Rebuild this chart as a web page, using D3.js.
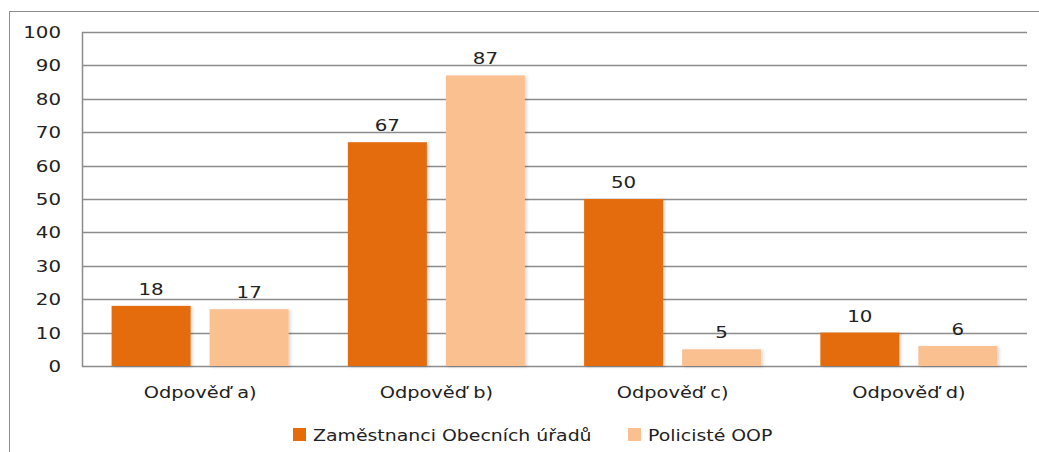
<!DOCTYPE html>
<html><head><meta charset="utf-8">
<script src="https://cdn.jsdelivr.net/npm/d3@7"></script>
<style>
html,body{margin:0;padding:0;background:#fff;}
svg text{font-family:"DejaVu Sans",Verdana,sans-serif;fill:#222;}
</style></head><body>
<svg id="c" width="1039" height="452"></svg>
<script>
const categories = ["Odpověď a)", "Odpověď b)", "Odpověď c)", "Odpověď d)"];
const seriesNames = ["Zaměstnanci Obecních úřadů", "Policisté OOP"];
const zamestnanci = [18, 67, 50, 10];
const policiste = [17, 87, 5, 6];
const yTicks = [0, 10, 20, 30, 40, 50, 60, 70, 80, 90, 100];
const colors = ["#E46C0A", "#FAC090"];

const svg = d3.select("#c");
const defs = svg.append("defs");
const f = defs.append("filter").attr("id","sh").attr("x","-10%").attr("y","-10%").attr("width","130%").attr("height","130%");
f.append("feDropShadow").attr("dx",2).attr("dy",1).attr("stdDeviation",1.5).attr("flood-color","#000").attr("flood-opacity",0.15);

// outer border
svg.append("rect").attr("x",9.5).attr("y",11.5).attr("width",1060).attr("height",480)
  .attr("fill","none").attr("stroke","#8c8c8c").attr("stroke-width",1);

const L = 82, R = 1027, T = 32, B = 366;
const x = d3.scaleBand().domain(categories).range([L, R]).paddingInner(0).paddingOuter(0);
const y = d3.scaleLinear().domain([0, 100]).range([B, T]);
const inner = d3.scaleBand().domain([0,1]).range([0, x.bandwidth()]).paddingInner(0.194).paddingOuter(0.302);

const place = (sel, fx, fy, sx) => sel.attr("x", 0).attr("y", 0)
  .attr("transform", (d, i) => `translate(${fx(d, i)},${fy(d, i)}) scale(${sx},1)`);

// gridlines
svg.append("g").selectAll("line").data(yTicks).join("line")
  .attr("x1", L).attr("x2", R)
  .attr("y1", d => Math.round(y(d)) + 0.5).attr("y2", d => Math.round(y(d)) + 0.5)
  .attr("stroke", "#8c8c8c").attr("stroke-width", 1.3);
// left axis line
svg.append("line").attr("x1", L+0.5).attr("x2", L+0.5).attr("y1", T).attr("y2", B+1)
  .attr("stroke", "#8c8c8c").attr("stroke-width", 1.5);

// y tick labels
place(svg.append("g").selectAll("text").data(yTicks).join("text")
  .attr("text-anchor", "end").attr("font-size", 16.5).text(d => d),
  () => 61, d => y(d) + 6, 1.2);

const data = [zamestnanci, policiste];
data.forEach((vals, si) => {
  const g = svg.append("g");
  g.selectAll("rect").data(vals).join("rect")
    .attr("x", (d, i) => x(categories[i]) + inner(si))
    .attr("width", inner.bandwidth())
    .attr("y", d => y(d))
    .attr("height", d => y(0) - y(d))
    .attr("fill", colors[si])
    .attr("filter", "url(#sh)");
  place(g.selectAll("text").data(vals).join("text")
    .attr("text-anchor", "middle").attr("font-size", 16.5).text(d => d),
    (d, i) => x(categories[i]) + inner(si) + inner.bandwidth()/2, d => y(d) - 11, 1.2);
});

// category labels
place(svg.append("g").selectAll("text").data(categories).join("text")
  .attr("text-anchor", "middle").attr("font-size", 15.5).text(d => d),
  d => x(d) + x.bandwidth()/2, () => 398, 1.25);

// legend
const legX = [293, 628];
const lg = svg.append("g");
seriesNames.forEach((n, i) => {
  lg.append("rect").attr("x", legX[i]).attr("y", 428).attr("width", 13).attr("height", 13).attr("fill", colors[i]);
  lg.append("text").attr("x", 0).attr("y", 0)
    .attr("transform", `translate(${legX[i] + 20},441) scale(1.22,1)`)
    .attr("font-size", 15.5).text(n);
});
</script>
</body></html>
